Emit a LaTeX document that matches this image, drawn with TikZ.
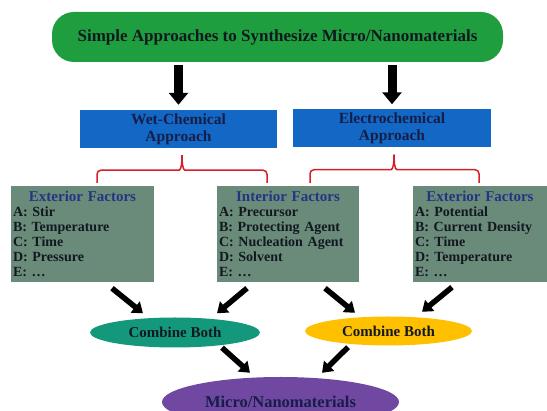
\documentclass[tikz,border=0pt]{standalone}
\usepackage{fontspec}
\setmainfont{Liberation Serif}
\usepackage{tikz}
\usetikzlibrary{arrows.meta}
\usetikzlibrary{shapes.geometric}
\usetikzlibrary{calc}

\definecolor{topgreen}{RGB}{30,158,62}
\definecolor{appblue}{RGB}{18,104,196}
\definecolor{factorgrey}{RGB}{106,138,122}
\definecolor{combteal}{RGB}{20,152,124}
\definecolor{combyellow}{RGB}{255,192,0}
\definecolor{matpurple}{RGB}{112,72,162}
\definecolor{bracered}{RGB}{212,32,44}
\definecolor{navytext}{RGB}{40,52,130}
\definecolor{appnavy}{RGB}{22,30,72}
\definecolor{darktext}{RGB}{18,24,32}

\tikzset{
  topbox/.style={rectangle, rounded corners=22pt, fill=topgreen, minimum width=451pt, minimum height=50pt, text=darktext, font=\bfseries\fontsize{17}{17}\selectfont},
  approach/.style={rectangle, fill=appblue, minimum width=197pt, minimum height=38pt, align=center, text=appnavy, font=\bfseries\fontsize{15.5}{17}\selectfont},
  factor/.style={rectangle, fill=factorgrey, minimum height=96pt, inner xsep=2pt, text width=#1, align=left, text=darktext, font=\bfseries\fontsize{14}{15}\selectfont},
  combine/.style={ellipse, minimum width=#1, minimum height=30pt, inner sep=0pt, text=darktext, font=\bfseries\fontsize{15}{15}\selectfont},
  product/.style={ellipse, fill=matpurple, minimum width=237pt, minimum height=50pt, inner sep=0pt, text=appnavy, font=\bfseries\fontsize{16.5}{16.5}\selectfont},
  bigarrow/.style={draw=black, line width=9pt, -{Triangle[width=19pt, length=12pt]}},
  smallarrow/.style={draw=black, line width=5.5pt, -{Triangle[width=14pt, length=10pt]}},
  brace/.style={draw=bracered, line width=1.5pt, rounded corners=4pt}
}
\newcommand{\factortitle}[1]{\makebox[\hsize][c]{\fontsize{15}{15}\selectfont\color{navytext}#1}\\}

\begin{document}
\begin{tikzpicture}[x=1pt, y=1pt]
\useasboundingbox (0, 0) rectangle (547, -411);

\node[topbox] (top) at (277.5, -37) {Simple Approaches to Synthesize Micro/Nanomaterials};

\node[approach] (wet) at (178.5, -129) {Wet-Chemical\\Approach};
\node[approach, minimum width=198pt] (elec) at (392, -128.5) {Electrochemical\\Approach};

\draw[bigarrow, shorten <=3pt, shorten >=5pt] (top.south -| wet.north) -- (wet.north);
\draw[bigarrow, shorten <=3pt, shorten >=5pt] (top.south -| elec.north) -- (elec.north);

\node[factor=139pt] (extl) at (82.5, -234) {\factortitle{Exterior Factors}A: Stir\\B: Temperature\\C: Time\\D: Pressure\\E: \dots};
\node[factor=138pt] (intr) at (288, -234) {\factortitle{Interior Factors}A: Precursor\\B: Protecting Agent\\C: Nucleation Agent\\D: Solvent\\E: \dots};
\node[factor=130pt] (extr) at (480, -234) {\factortitle{Exterior Factors}A: Potential\\B: Current Density\\C: Time\\D: Temperature\\E: \dots};

\coordinate (wettip) at ($(wet.south)+(3.5, -7)$);
\coordinate (eletip) at ($(elec.south)+(2, -7)$);
\draw[brace] ($(extl.north)+(14.5, 3)$) |- ($(wettip)+(-7, -15)$) to[out=0, in=-90] (wettip);
\draw[brace] ($(intr.north)+(-21, 3)$) |- ($(wettip)+(7, -15)$) to[out=180, in=-90] (wettip);
\draw[brace] ($(intr.north)+(22, 3)$) |- ($(eletip)+(-7, -15)$) to[out=0, in=-90] (eletip);
\draw[brace] ($(extr.north)+(-1, 3)$) |- ($(eletip)+(7, -15)$) to[out=180, in=-90] (eletip);

\node[combine=170pt, fill=combteal] (combl) at (175, -332.5) {Combine Both};
\node[combine=167pt, fill=combyellow, minimum height=29pt] (combr) at (388.5, -331) {Combine Both};

\draw[smallarrow] ($(extl.south)+(29.5, -6)$) -- ($(combl.north)+(-32, 4)$);
\draw[smallarrow] ($(intr.south)+(-41, -6)$) -- ($(combl.north)+(42, 4)$);
\draw[smallarrow] ($(intr.south)+(37, -6)$) -- ($(combr.north)+(-33.5, 3.5)$);
\draw[smallarrow] ($(extr.south)+(-28, -5)$) -- ($(combr.north)+(33.5, 4.5)$);

\node[product] (micro) at (280.5, -402) {Micro/Nanomaterials};

\draw[smallarrow] ($(combl.south)+(47, 0)$) -- ($(micro.north)+(-30.5, 4)$);
\draw[smallarrow] ($(combr.south)+(-40.5, -1.5)$) -- ($(micro.north)+(41.5, 4)$);
\end{tikzpicture}
\end{document}
